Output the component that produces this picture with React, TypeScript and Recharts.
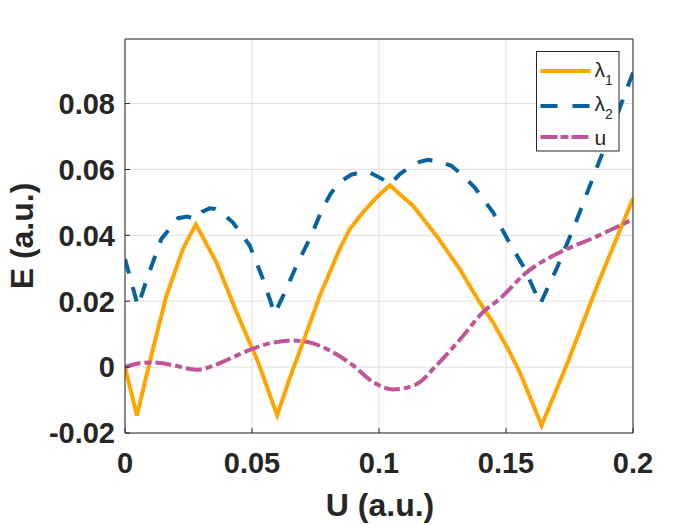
import React from 'react';
import { LineChart, Line, XAxis, YAxis, CartesianGrid, Legend } from 'recharts';

// Series: lambda_1 (solid orange)
const lambda1X = [0, 0.0047, 0.0097, 0.0163, 0.0196, 0.0228, 0.0255, 0.0279, 0.036, 0.0439, 0.0524, 0.0599, 0.0648, 0.0701, 0.0767, 0.0845, 0.0885, 0.0937, 0.099, 0.1043, 0.1082, 0.1134, 0.118, 0.1226, 0.1272, 0.1318, 0.1357, 0.1396, 0.1449, 0.1508, 0.1554, 0.16, 0.164, 0.1738, 0.1869, 0.2];
const lambda1Y = [0, -0.0147, 0.0015, 0.0217, 0.0288, 0.0358, 0.0399, 0.0433, 0.0318, 0.0167, 0.0015, -0.0146, -0.0035, 0.0076, 0.0217, 0.0358, 0.0419, 0.047, 0.0515, 0.0552, 0.0525, 0.049, 0.0444, 0.0399, 0.0348, 0.0298, 0.0247, 0.0197, 0.0136, 0.0055, -0.0015, -0.0101, -0.0177, 0.0005, 0.0266, 0.0512];

// Series: lambda_2 (dashed blue)
const lambda2X = [0, 0.0051, 0.0091, 0.0143, 0.0209, 0.0245, 0.0279, 0.0305, 0.0333, 0.0355, 0.038, 0.0425, 0.0491, 0.0543, 0.0589, 0.0629, 0.0675, 0.0727, 0.078, 0.081, 0.0845, 0.089, 0.0937, 0.0965, 0.0983, 0.1015, 0.1043, 0.1082, 0.112, 0.116, 0.1193, 0.124, 0.1285, 0.133, 0.1377, 0.141, 0.1449, 0.1508, 0.1574, 0.1635, 0.17, 0.177, 0.184, 0.192, 0.2];
const lambda2Y = [0.0328, 0.0185, 0.0278, 0.0389, 0.0452, 0.0457, 0.0449, 0.0472, 0.0482, 0.048, 0.047, 0.0439, 0.0369, 0.0268, 0.0162, 0.0227, 0.0308, 0.0389, 0.0485, 0.0527, 0.0561, 0.0584, 0.0593, 0.059, 0.0583, 0.057, 0.0555, 0.0586, 0.0607, 0.0623, 0.0629, 0.0624, 0.0611, 0.0582, 0.0545, 0.051, 0.047, 0.0385, 0.0298, 0.0192, 0.03, 0.043, 0.057, 0.073, 0.0894];

// Series: u (dash-dot magenta)
const uX = [0, 0.0058, 0.011, 0.0176, 0.0281, 0.036, 0.0439, 0.0491, 0.057, 0.0661, 0.074, 0.0819, 0.0898, 0.0976, 0.1055, 0.1147, 0.1226, 0.1318, 0.1416, 0.1475, 0.1574, 0.1711, 0.1843, 0.2];
const uY = [0, 0.0012, 0.0014, 0.0008, -0.0008, 0.0008, 0.0035, 0.0052, 0.0072, 0.0081, 0.0072, 0.0045, 0.0005, -0.0045, -0.0068, -0.0052, 0.0005, 0.0083, 0.0172, 0.0207, 0.0283, 0.0348, 0.0392, 0.0449];

const xTicks = [0, 0.05, 0.1, 0.15, 0.2];
const yTicks = [-0.02, 0, 0.02, 0.04, 0.06, 0.08];
const xDomain = [0, 0.2];
const yDomain = [-0.02, 0.0996];

const toPoints = (xs: number[], ys: number[]) => xs.map((x, i) => ({ x, y: ys[i] }));
const lambda1Data = toPoints(lambda1X, lambda1Y);
const lambda2Data = toPoints(lambda2X, lambda2Y);
const uData = toPoints(uX, uY);

const ORANGE = '#ffa500';
const BLUE = '#07639d';
const PINK = '#bf5597';
const AXIS = '#262626';
const FONT = '"Liberation Sans", Arial, Helvetica, sans-serif';
const LW = 4;

const tickStyle = { fill: AXIS, fontSize: 29, fontWeight: 'bold', fontFamily: FONT };

const fmt = (v: number) => String(Number(v.toFixed(4)));

const LegendBox = () => (
  <svg width={84} height={101} style={{ display: 'block' }}>
    <rect x={0.5} y={0.5} width={82.5} height={99.5} fill="#fff" stroke={AXIS} strokeWidth={1} />
    <line x1={4.5} x2={54.5} y1={20} y2={20} stroke={ORANGE} strokeWidth={LW} />
    <text x={58.5} y={25.5} fontFamily={FONT} fontSize={21} fill={AXIS}>
      λ<tspan dy={8} fontSize={14}>1</tspan>
    </text>
    <line x1={4.5} x2={54.5} y1={55} y2={55} stroke={BLUE} strokeWidth={LW} strokeDasharray="17 15" />
    <text x={58.5} y={60} fontFamily={FONT} fontSize={21} fill={AXIS}>
      λ<tspan dy={8} fontSize={14}>2</tspan>
    </text>
    <line x1={4.5} x2={54.5} y1={86} y2={86} stroke={PINK} strokeWidth={LW} strokeDasharray="17 3 8 3" />
    <text x={58.5} y={93.5} fontFamily={FONT} fontSize={21} fill={AXIS}>u</text>
  </svg>
);

const XLabel = () => (
  <text x={380} y={516} textAnchor="middle" fontFamily={FONT} fontSize={32} fontWeight="bold" fill={AXIS}>
    U (a.u.)
  </text>
);

const YLabel = () => (
  <text x={33} y={236} transform="rotate(-90, 33, 236)" textAnchor="middle" fontFamily={FONT} fontSize={32} fontWeight="bold" fill={AXIS}>
    E (a.u.)
  </text>
);

export default function App() {
  return (
    <div style={{ position: 'absolute', left: 0, top: 0, width: 700, height: 525, background: '#fff' }}>
      <LineChart width={700} height={525} margin={{ top: 38, right: 66, bottom: 0, left: 0 }}>
        <CartesianGrid stroke="#dedede" strokeWidth={1} />
        <XAxis
          dataKey="x"
          type="number"
          domain={xDomain}
          ticks={xTicks}
          tickFormatter={fmt}
          height={92}
          tickSize={-5}
          tickMargin={24}
          tick={tickStyle}
          axisLine={{ stroke: AXIS, strokeWidth: 1 }}
          tickLine={{ stroke: AXIS }}
          allowDataOverflow
          label={XLabel}
        />
        <XAxis
          xAxisId="top"
          orientation="top"
          dataKey="x"
          type="number"
          domain={xDomain}
          ticks={xTicks}
          height={1}
          tickSize={-5}
          tick={false}
          axisLine={{ stroke: AXIS, strokeWidth: 1 }}
          tickLine={{ stroke: AXIS }}
          allowDataOverflow
        />
        <YAxis
          type="number"
          domain={yDomain}
          ticks={yTicks}
          tickFormatter={fmt}
          width={125}
          tickSize={-5}
          tickMargin={15}
          tick={tickStyle}
          axisLine={{ stroke: AXIS, strokeWidth: 1 }}
          tickLine={{ stroke: AXIS }}
          allowDataOverflow
          label={YLabel}
        />
        <YAxis
          yAxisId="right"
          orientation="right"
          type="number"
          domain={yDomain}
          ticks={yTicks}
          width={1}
          tickSize={-5}
          tick={false}
          axisLine={{ stroke: AXIS, strokeWidth: 1 }}
          tickLine={{ stroke: AXIS }}
          allowDataOverflow
        />
        <Legend
          layout="horizontal"
          verticalAlign="middle"
          align="center"
          content={LegendBox}
          wrapperStyle={{ position: 'absolute', left: 536, top: 51, width: 84, height: 101 }}
        />
        <Line
          data={lambda1Data}
          dataKey="y"
          name="λ1"
          type="linear"
          stroke={ORANGE}
          strokeWidth={LW}
          dot={false}
          activeDot={false}
          isAnimationActive={false}
        />
        <Line
          data={lambda2Data}
          dataKey="y"
          name="λ2"
          type="linear"
          stroke={BLUE}
          strokeWidth={LW}
          strokeDasharray="15 14"
          dot={false}
          activeDot={false}
          isAnimationActive={false}
        />
        <Line
          data={uData}
          dataKey="y"
          name="u"
          type="monotone"
          stroke={PINK}
          strokeWidth={LW}
          strokeDasharray="16 4 7 4"
          dot={false}
          activeDot={false}
          isAnimationActive={false}
        />
      </LineChart>
    </div>
  );
}
